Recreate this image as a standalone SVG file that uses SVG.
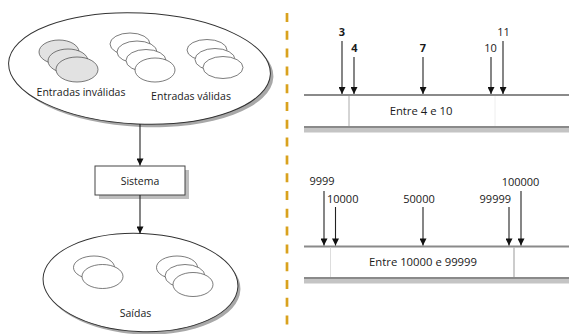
<svg xmlns="http://www.w3.org/2000/svg" width="569" height="334" viewBox="0 0 569 334">
<style>
text{font-family:"Open Sans","DejaVu Sans",sans-serif;fill:#1a1a1a;font-size:10.5px}
.big{stroke:#333;stroke-width:1;fill:#fff}
.shadow{fill:#a8a8a8}
.disc{stroke:#444;stroke-width:0.7;fill:#fff}
.inv{stroke:#444;stroke-width:0.7;fill:#e2e2e2}
.arr{stroke:#222;stroke-width:1.1;fill:none;marker-end:url(#ah)}
.num{font-size:11px}
.b{font-weight:bold}
.rng{font-size:11.3px}
.tl{fill:#8a8a8a}
.band{fill:#c4c4c4}
</style>
<defs>
<marker id="ah" markerUnits="userSpaceOnUse" viewBox="0 0 10 10" refX="10" refY="5" markerWidth="10" markerHeight="7" orient="auto">
<path d="M0,0 L10,5 L0,10 z" fill="#111"/>
</marker>
</defs>
<rect width="569" height="334" fill="#fff"/>
<line x1="287" y1="13" x2="287" y2="326" stroke="#d9a21e" stroke-width="2.7" stroke-dasharray="9 8.8"/>
<g id="entradas">
<ellipse class="shadow" cx="142.5" cy="71.5" rx="131" ry="55.5" transform="rotate(2.5 142.5 71.5)"/>
<ellipse class="big" cx="139.5" cy="68.5" rx="131" ry="55.5" transform="rotate(2.5 139.5 68.5)"/>
<ellipse class="inv" cx="59" cy="52" rx="20" ry="12"/>
<ellipse class="inv" cx="68" cy="61" rx="20" ry="12"/>
<ellipse class="inv" cx="77" cy="69.5" rx="21" ry="12.5"/>
<ellipse class="disc" cx="130" cy="44" rx="20" ry="11"/>
<ellipse class="disc" cx="137" cy="52" rx="20" ry="11"/>
<ellipse class="disc" cx="146" cy="60.5" rx="20" ry="11"/>
<ellipse class="disc" cx="155" cy="70" rx="20" ry="12"/>
<ellipse class="disc" cx="207" cy="50" rx="20" ry="10.5"/>
<ellipse class="disc" cx="215" cy="59.5" rx="20" ry="11"/>
<ellipse class="disc" cx="223" cy="67.5" rx="20" ry="11"/>
<text x="81" y="96" text-anchor="middle">Entradas inválidas</text>
<text x="191" y="100" text-anchor="middle">Entradas válidas</text>
</g>
<g id="sistema">
<rect x="99" y="170" width="90" height="29" fill="#bdbdbd"/>
<rect x="95" y="166" width="90" height="29" fill="#fff" stroke="#444" stroke-width="1"/>
<text x="140" y="185" text-anchor="middle">Sistema</text>
</g>
<g id="saidas">
<ellipse class="shadow" cx="143" cy="285.5" rx="97.5" ry="49" transform="rotate(2.5 143 285.5)"/>
<ellipse class="big" cx="140.5" cy="282.5" rx="97.5" ry="49" transform="rotate(2.5 140.5 282.5)"/>
<ellipse class="disc" cx="94" cy="267.5" rx="20.5" ry="11.5"/>
<ellipse class="disc" cx="102.5" cy="276.5" rx="20.5" ry="12"/>
<ellipse class="disc" cx="177" cy="267.5" rx="20.5" ry="11.5"/>
<ellipse class="disc" cx="185" cy="276" rx="20" ry="11.5"/>
<ellipse class="disc" cx="193" cy="284.5" rx="20" ry="12"/>
<text x="135.5" y="317" text-anchor="middle">Saídas</text>
</g>
<g id="escala1">
<rect x="304" y="94" width="265" height="2" class="tl"/>
<rect x="304" y="126" width="265" height="2.5" class="tl"/>
<rect x="304" y="128.5" width="265" height="4" class="band"/>
<line x1="349" y1="96" x2="349" y2="126" stroke="#aaa" stroke-width="1"/>
<line x1="495" y1="96" x2="495" y2="126" stroke="#eee" stroke-width="1"/>
<text class="rng" x="421" y="115" text-anchor="middle">Entre 4 e 10</text>
<text class="num b" x="342" y="36" text-anchor="middle">3</text>
<text class="num b" x="354.5" y="52" text-anchor="middle">4</text>
<text class="num b" x="423" y="52" text-anchor="middle">7</text>
<text class="num" x="490.5" y="52" text-anchor="middle">10</text>
<text class="num" x="503.5" y="36" text-anchor="middle">11</text>
</g>
<g id="escala2">
<rect x="304" y="245.5" width="265" height="2" class="tl"/>
<rect x="304" y="277" width="265" height="2.5" class="tl"/>
<rect x="304" y="279.5" width="265" height="4" class="band"/>
<line x1="330.5" y1="247.5" x2="330.5" y2="277" stroke="#ddd" stroke-width="1"/>
<line x1="514" y1="247.5" x2="514" y2="277" stroke="#aaa" stroke-width="1.2"/>
<text class="rng" x="423" y="265.5" text-anchor="middle">Entre 10000 e 99999</text>
<text class="num" x="322" y="184.5" text-anchor="middle">9999</text>
<text class="num" x="327" y="202.5">10000</text>
<text class="num" x="419" y="202.5" text-anchor="middle">50000</text>
<text class="num" x="511" y="202.5" text-anchor="end">99999</text>
<text class="num" x="520.5" y="186" text-anchor="middle">100000</text>
</g>
<g id="conectores">
<line class="arr" x1="140" y1="124" x2="140" y2="165.5"/>
<line class="arr" x1="140" y1="195" x2="140" y2="233.5"/>
<line class="arr" x1="342" y1="41" x2="342" y2="94"/>
<line class="arr" x1="354" y1="57" x2="354" y2="94"/>
<line class="arr" x1="423" y1="57" x2="423" y2="94"/>
<line class="arr" x1="491" y1="57" x2="491" y2="94"/>
<line class="arr" x1="503" y1="41" x2="503" y2="94"/>
<line class="arr" x1="324" y1="191" x2="324" y2="245.5"/>
<line class="arr" x1="335.5" y1="207" x2="335.5" y2="245.5"/>
<line class="arr" x1="423" y1="207" x2="423" y2="245.5"/>
<line class="arr" x1="509" y1="207" x2="509" y2="245.5"/>
<line class="arr" x1="521" y1="191" x2="521" y2="245.5"/>
</g>
</svg>
